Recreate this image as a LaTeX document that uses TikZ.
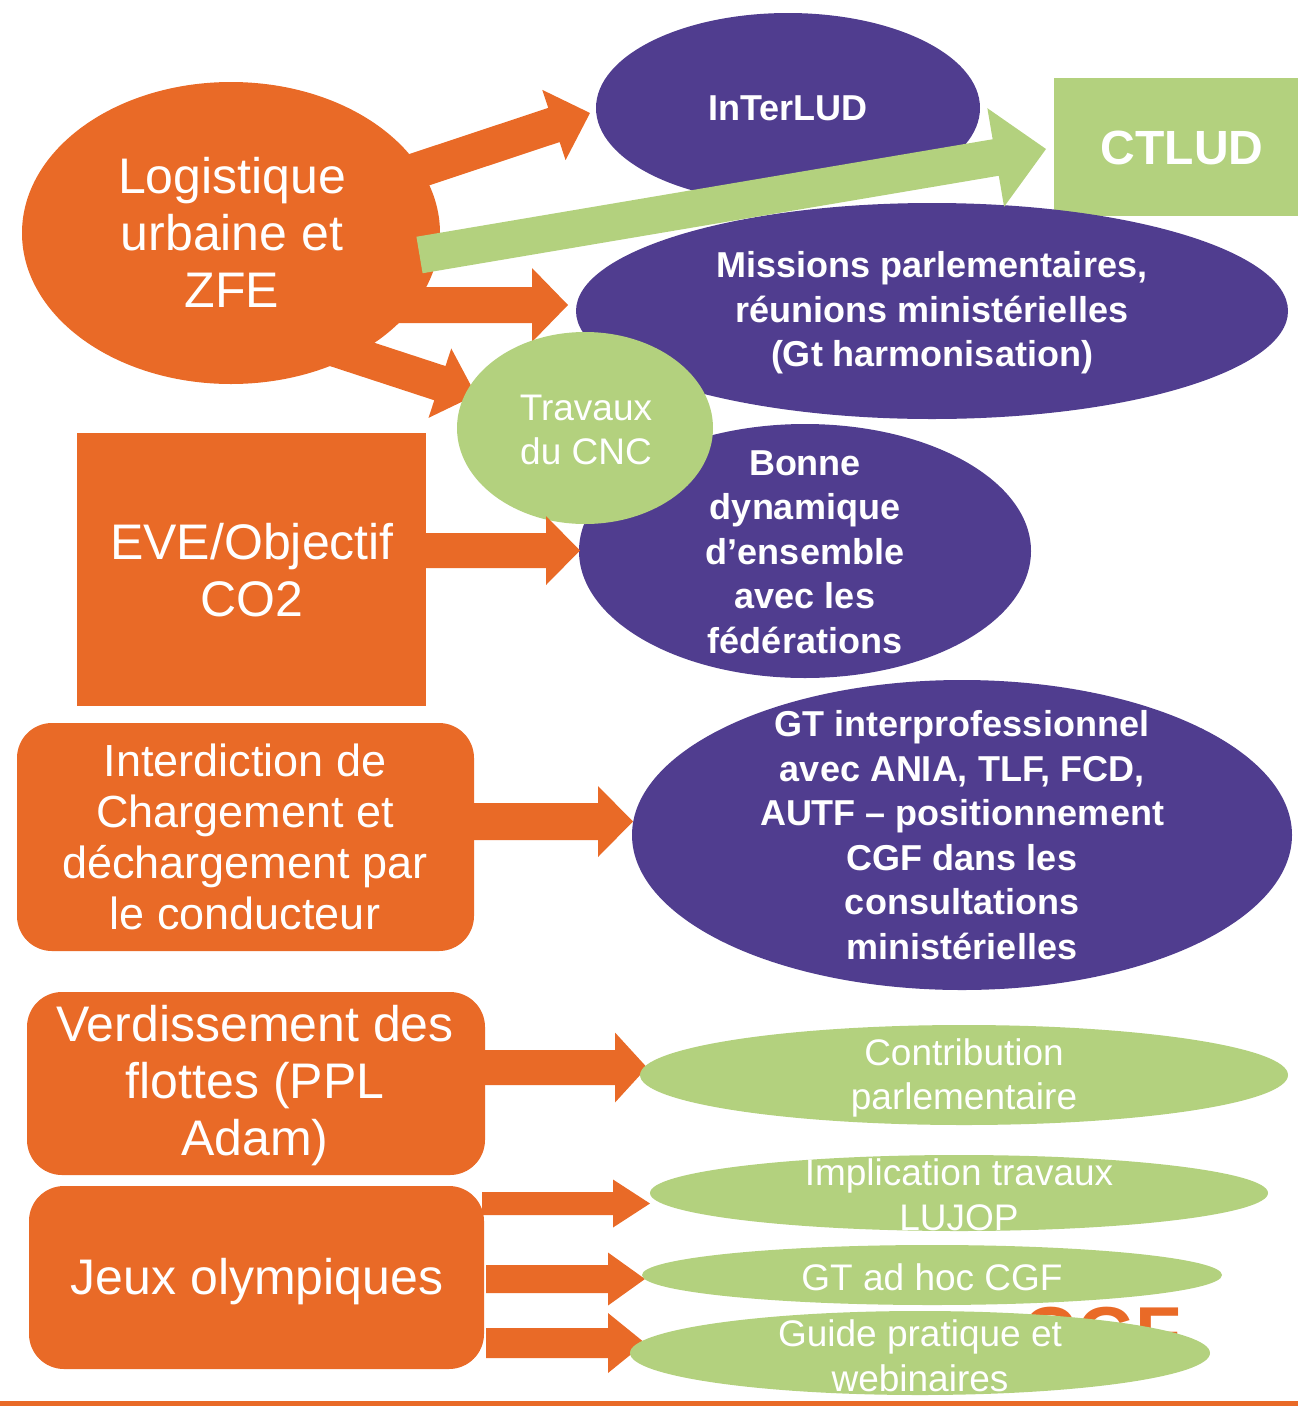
\documentclass[tikz,border=0pt]{standalone}
\usepackage{fontspec}
\setmainfont{Liberation Sans}
\usetikzlibrary{calc}
\definecolor{corange}{HTML}{E96A27}
\definecolor{cpurple}{HTML}{503D8F}
\definecolor{cgreen}{HTML}{B3D17E}
% #1 colour, #2 start, #3 tip, #4 shaft half width, #5 head half width, #6 head length
\newcommand\blockarrow[6]{%
  \coordinate (#2-#3-base) at ($(#3)!#6!(#2)$);
  \fill[#1] ($(#2)!#4!90:(#3)$) -- ($(#2-#3-base)!#4!90:(#3)$)
    -- ($(#2-#3-base)!#5!90:(#3)$) -- (#3)
    -- ($(#2-#3-base)!#5!-90:(#3)$) -- ($(#2-#3-base)!#4!-90:(#3)$)
    -- ($(#2)!#4!-90:(#3)$) -- cycle;
}
\tikzset{
  otext/.style={text=white, align=center, inner sep=0pt, font=\fontsize{50}{57}\selectfont},
  itext/.style={text=white, align=center, inner sep=0pt, font=\fontsize{45}{51}\selectfont},
  ptext/.style={text=white, align=center, inner sep=0pt, font=\bfseries\fontsize{36}{44.5}\selectfont},
  gtext/.style={text=white, align=center, inner sep=0pt, font=\fontsize{37}{44.5}\selectfont},
}
\begin{document}
\begin{tikzpicture}[x=1pt, y=-1pt]
\useasboundingbox (0,0) rectangle (1298,1406);

% background logo (partly hidden)
\node[anchor=base, text=corange, inner sep=0pt, font=\bfseries\fontsize{75}{80}\selectfont] (cgflogo) at (1102,1359) {CGF};
% bottom line
\fill[corange] (0,1401) rectangle (1298,1406);

% arrow end points
\coordinate (a1s) at (343,195);   \coordinate (a1t) at (590,113);
\coordinate (a2s) at (300,305);   \coordinate (a2t) at (568,305);
\coordinate (a3s) at (238,317);   \coordinate (a3t) at (476,395);
\coordinate (gs)  at (419.5,255); \coordinate (gt)  at (1046,149);
\coordinate (a4s) at (400,550.5); \coordinate (a4t) at (580,550.5);
\coordinate (a5s) at (450,821.5); \coordinate (a5t) at (633,821.5);
\coordinate (a6s) at (470,1067.5);\coordinate (a6t) at (647,1067.5);
\coordinate (a7s) at (482,1203.5);\coordinate (a7t) at (650,1203.5);
\coordinate (a8s) at (486,1279);  \coordinate (a8t) at (645,1279);
\coordinate (a9s) at (486,1343);  \coordinate (a9t) at (645,1343);

% arrows from Logistique
\blockarrow{corange}{a1s}{a1t}{18pt}{37pt}{38pt}
\blockarrow{corange}{a2s}{a2t}{18pt}{37pt}{36pt}
\blockarrow{corange}{a3s}{a3t}{18pt}{36.5pt}{38pt}

% Logistique
\fill[corange] (231,233) ellipse [x radius=209pt, y radius=151pt];
\node[otext] (logi) at (232,232) {Logistique\\urbaine et\\ZFE};

% InTerLUD
\fill[cpurple] (788,108) ellipse [x radius=192pt, y radius=95pt];
\node[ptext] (interlud) at (788,108) {InTerLUD};

% CTLUD
\fill[cgreen] (1054,78) rectangle (1298,216);
\node[text=white, inner sep=0pt, font=\bfseries\fontsize{48}{52}\selectfont] (ctlud) at (1182,148) {CTLUD};

% Missions
\fill[cpurple] (932,311) ellipse [x radius=356pt, y radius=108pt];
\node[ptext] (missions) at (932,313) {Missions parlementaires,\\réunions ministérielles\\(Gt harmonisation)};

% Bonne dynamique
\fill[cpurple] (805,551) ellipse [x radius=226pt, y radius=127pt];
\node[ptext] (bonne) at (805,552) {Bonne\\dynamique\\d’ensemble\\avec les\\fédérations};

% Travaux du CNC
\fill[cgreen] (585,428) ellipse [x radius=128pt, y radius=96pt];
\node[gtext] (travaux) at (586,430) {Travaux\\du CNC};

% green arrow to CTLUD
\blockarrow{cgreen}{gs}{gt}{18.5pt}{50pt}{51pt}

% EVE
\fill[corange] (77,433) rectangle (426,706);
\node[otext] (eve) at (252,570) {EVE/Objectif\\CO2};
\blockarrow{corange}{a4s}{a4t}{17.5pt}{34.5pt}{34pt}

% Interdiction
\fill[corange, rounded corners=35pt] (17,723) rectangle (474,951);
\node[itext] (interd) at (245,837) {Interdiction de\\Chargement et\\déchargement par\\le conducteur};
\blockarrow{corange}{a5s}{a5t}{18.5pt}{35.5pt}{35pt}

% GT interprofessionnel
\fill[cpurple] (962,835) ellipse [x radius=330pt, y radius=155pt];
\node[ptext] (gtinter) at (962,835) {GT interprofessionnel\\avec ANIA, TLF, FCD,\\AUTF – positionnement\\CGF dans les\\consultations\\ministérielles};

% Verdissement
\fill[corange, rounded corners=35pt] (27,992) rectangle (485,1175);
\node[otext] (verd) at (255,1086) {Verdissement des\\flottes (PPL\\Adam)};
\blockarrow{corange}{a6s}{a6t}{17.5pt}{35pt}{32pt}

% Contribution
\fill[cgreen] (964,1075) ellipse [x radius=324pt, y radius=50pt];
\node[gtext] (contrib) at (964,1078) {Contribution\\parlementaire};

% Jeux olympiques
\blockarrow{corange}{a7s}{a7t}{11.5pt}{24pt}{37pt}
\blockarrow{corange}{a8s}{a8t}{14pt}{26.5pt}{37pt}
\blockarrow{corange}{a9s}{a9t}{15pt}{30pt}{37pt}
\fill[corange, rounded corners=35pt] (29,1186) rectangle (484,1369);
\node[otext] (jeux) at (257,1282) {Jeux olympiques};

% green ellipses
\fill[cgreen] (959,1193) ellipse [x radius=309pt, y radius=38pt];
\node[gtext] (lujop) at (959,1195) {Implication travaux\\LUJOP};
\fill[cgreen] (932,1275) ellipse [x radius=290pt, y radius=30pt];
\node[gtext] (adhoc) at (932,1277) {GT ad hoc CGF};
\fill[cgreen] (920,1353) ellipse [x radius=290pt, y radius=42pt];
\node[gtext] (guide) at (920,1356) {Guide pratique et\\webinaires};
\end{tikzpicture}
\end{document}
